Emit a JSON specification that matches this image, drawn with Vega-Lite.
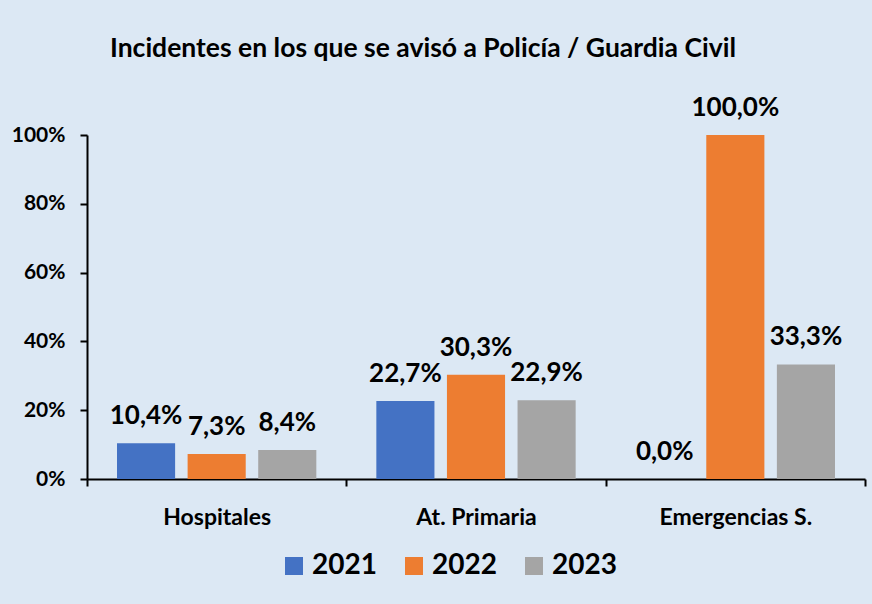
{
  "$schema": "https://vega.github.io/schema/vega-lite/v6.json",
  "width": 778,
  "height": 344,
  "autosize": "none",
  "padding": {"left": 87, "top": 135, "right": 7, "bottom": 125},
  "background": "#dce8f4",
  "config": {
    "view": {"stroke": null},
    "locale": {"number": {"decimal": ",", "thousands": ".", "grouping": [3], "currency": ["", " €"]}},
    "font": "Lato"
  },
  "title": {
    "text": "Incidentes en los que se avisó a Policía / Guardia Civil",
    "font": "Lato",
    "fontSize": 26.5,
    "fontWeight": "bold",
    "color": "black",
    "anchor": "start",
    "frame": "group",
    "dx": 23,
    "baseline": "alphabetic",
    "offset": 12
  },
  "data": {
    "values": [
      {"grupo": "Hospitales", "anio": "2021", "valor": 0.104},
      {"grupo": "Hospitales", "anio": "2022", "valor": 0.073},
      {"grupo": "Hospitales", "anio": "2023", "valor": 0.084},
      {"grupo": "At. Primaria", "anio": "2021", "valor": 0.227},
      {"grupo": "At. Primaria", "anio": "2022", "valor": 0.303},
      {"grupo": "At. Primaria", "anio": "2023", "valor": 0.229},
      {"grupo": "Emergencias S.", "anio": "2021", "valor": 0.0},
      {"grupo": "Emergencias S.", "anio": "2022", "valor": 1.0},
      {"grupo": "Emergencias S.", "anio": "2023", "valor": 0.333}
    ]
  },
  "encoding": {
    "x": {
      "field": "grupo",
      "type": "nominal",
      "sort": ["Hospitales", "At. Primaria", "Emergencias S."],
      "scale": {"paddingInner": 0, "paddingOuter": 0},
      "axis": {
        "title": null,
        "labelAngle": 0,
        "labelFont": "Lato",
        "labelFontSize": 23,
        "labelFontWeight": "bold",
        "labelColor": "black",
        "labelPadding": 20,
        "tickBand": "extent",
        "tickSize": 7,
        "tickColor": "black",
        "tickWidth": 2,
        "domainColor": "black",
        "domainWidth": 2
      }
    },
    "xOffset": {
      "field": "anio",
      "type": "nominal",
      "sort": ["2021", "2022", "2023"],
      "scale": {"paddingInner": 0.177, "paddingOuter": 0.425}
    },
    "y": {
      "field": "valor",
      "type": "quantitative",
      "scale": {"domain": [0, 1], "nice": false},
      "axis": {
        "title": null,
        "values": [0, 0.2, 0.4, 0.6, 0.8, 1],
        "format": ".0%",
        "grid": false,
        "labelFont": "Lato",
        "labelFontSize": 21,
        "labelFontWeight": "bold",
        "labelColor": "black",
        "labelPadding": 15,
        "tickSize": 7,
        "tickColor": "black",
        "tickWidth": 2,
        "domainColor": "black",
        "domainWidth": 2
      }
    }
  },
  "layer": [
    {
      "mark": {"type": "bar"},
      "encoding": {
        "color": {
          "field": "anio",
          "type": "nominal",
          "scale": {"domain": ["2021", "2022", "2023"], "range": ["#4472c4", "#ed7d31", "#a5a5a5"]},
          "legend": {
            "title": null,
            "orient": "none",
            "direction": "horizontal",
            "legendX": 193,
            "legendY": 417,
            "padding": 0,
            "symbolType": "square",
            "symbolSize": 324,
            "symbolStrokeWidth": 0,
            "labelFont": "Lato",
            "labelFontSize": 28,
            "labelFontWeight": "bold",
            "labelColor": "black",
            "labelOffset": 4,
            "columnPadding": 23
          }
        }
      }
    },
    {
      "mark": {"type": "text", "baseline": "alphabetic", "dy": -19, "font": "Lato", "fontSize": 26, "fontWeight": "bold", "color": "black"},
      "encoding": {
        "text": {"field": "valor", "type": "quantitative", "format": ".1%"}
      }
    }
  ]
}
